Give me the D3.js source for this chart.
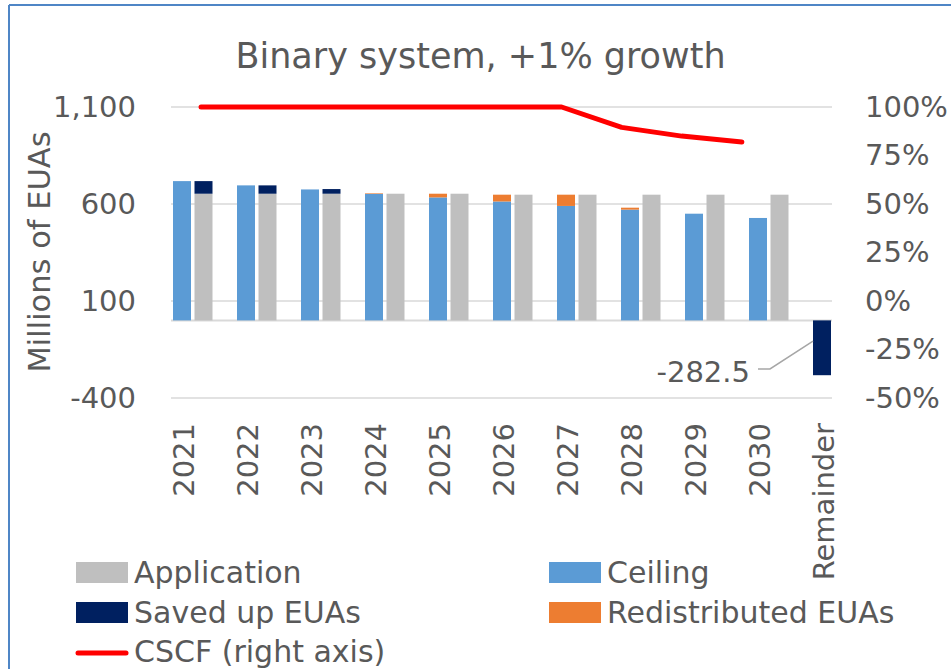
<!DOCTYPE html>
<head>
  <meta charset="utf-8">
  <style>
    body { margin: 0; background: #fff; }
    text { font-family: "DejaVu Sans", sans-serif; fill: #595959; }
    .grid line { stroke: #d9d9d9; stroke-width: 1.5; }
  </style>
  <script src="https://cdnjs.cloudflare.com/ajax/libs/d3/7.8.5/d3.min.js"></script>
</head>
<body>
<script>

  // Data (millions of EUAs)
  var categories = ["2021", "2022", "2023", "2024", "2025", "2026", "2027", "2028", "2029", "2030", "Remainder"];
  var years = ["2021", "2022", "2023", "2024", "2025", "2026", "2027", "2028", "2029", "2030"];
  var application = [653, 653, 653, 653, 653, 648, 648, 648, 648, 648];
  var ceiling = [718, 696, 675, 652, 634, 613, 590, 571, 550, 528];
  var savedUp = [65, 43, 24, 0, 0, 0, 0, 0, 0, 0];
  var redistributed = [0, 0, 0, 3, 19, 35, 58, 10, 0, 0];
  var remainder = -282.5;
  var cscf = [1, 1, 1, 1, 1, 1, 1, 0.895, 0.85, 0.82];

  var leftTicks = [-400, 100, 600, 1100];
  var rightTicks = [-0.5, -0.25, 0, 0.25, 0.5, 0.75, 1];
  var legendNames = ["Application", "Ceiling", "Saved up EUAs", "Redistributed EUAs", "CSCF (right axis)"];

  var w = 951, h = 669;
  var cGray = "#bfbfbf", cBlue = "#5b9bd5", cNavy = "#002060", cOrange = "#ed7d31", cRed = "#ff0000";

  // d3 uses a unicode minus, the chart uses a plain hyphen
  var fmt = d3.formatLocale({ decimal: ".", thousands: ",", grouping: [3], currency: ["", ""], minus: "-" });

  var svg = d3.select("body").append("svg")
    .attr("width", w)
    .attr("height", h);

  svg.append("rect").attr("width", w).attr("height", h).attr("fill", "#fff");

  // outer frame (only top and left edges visible)
  svg.append("line").attr("x1", 9).attr("x2", w).attr("y1", 5).attr("y2", 5)
    .attr("stroke", "#4f86c6").attr("stroke-width", 2);
  svg.append("line").attr("x1", 9).attr("x2", 9).attr("y1", 5).attr("y2", h)
    .attr("stroke", "#4f86c6").attr("stroke-width", 2);

  // scales
  var yLeft = d3.scaleLinear().domain([-400, 1100]).range([398, 107]);
  var yRight = d3.scaleLinear().domain([-0.5, 1]).range([398, 107]);
  var xBars = d3.scaleBand().domain(categories).range([151, 855]);     // bars + labels
  var xLine = d3.scaleBand().domain(categories).range([171, 832]);     // CSCF line
  var barW = 18;

  // title
  svg.append("text")
    .attr("x", 480.5).attr("y", 68)
    .attr("text-anchor", "middle")
    .attr("font-size", "35px")
    .text("Binary system, +1% growth");

  // gridlines
  svg.append("g").attr("class", "grid")
    .selectAll("line")
    .data(leftTicks)
    .enter().append("line")
    .attr("x1", 171).attr("x2", 832)
    .attr("y1", function(d) { return yLeft(d); })
    .attr("y2", function(d) { return yLeft(d); });

  // category axis line at zero
  svg.append("line")
    .attr("x1", 171).attr("x2", 832)
    .attr("y1", yLeft(0)).attr("y2", yLeft(0))
    .attr("stroke", "#d9d9d9").attr("stroke-width", 2);

  // left axis
  var leftAxis = svg.append("g")
    .attr("transform", "translate(136,0)")
    .call(d3.axisLeft(yLeft).tickValues(leftTicks).tickSize(0).tickPadding(0).tickFormat(fmt.format(",")));
  leftAxis.select(".domain").remove();
  leftAxis.selectAll("text")
    .attr("font-size", "29px").attr("fill", "#595959").attr("font-family", "DejaVu Sans");

  // right axis
  var rightAxis = svg.append("g")
    .attr("transform", "translate(865,0)")
    .call(d3.axisRight(yRight).tickValues(rightTicks).tickSize(0).tickPadding(0).tickFormat(fmt.format(".0%")));
  rightAxis.select(".domain").remove();
  rightAxis.selectAll("text")
    .attr("font-size", "29px").attr("fill", "#595959").attr("font-family", "DejaVu Sans");

  // axis title
  svg.append("text")
    .attr("transform", "translate(50,252) rotate(-90)")
    .attr("text-anchor", "middle")
    .attr("font-size", "30.5px")
    .text("Millions of EUAs");

  // category labels
  svg.selectAll("text.cat")
    .data(categories)
    .enter().append("text")
    .attr("class", "cat")
    .attr("transform", function(d) {
      return "translate(" + (xBars(d) + xBars.bandwidth() / 2 + 11) + ",423) rotate(-90)";
    })
    .attr("text-anchor", "end")
    .attr("font-size", "29px")
    .text(function(d) { return d; });

  function ceilX(d) { return xBars(d) + xBars.bandwidth() / 2 - 10; }
  function appX(d) { return xBars(d) + xBars.bandwidth() / 2 + 11.5; }

  // Ceiling bars
  svg.selectAll("rect.ceiling")
    .data(years)
    .enter().append("rect")
    .attr("x", ceilX)
    .attr("y", function(d, i) { return yLeft(ceiling[i]); })
    .attr("width", barW)
    .attr("height", function(d, i) { return yLeft(0) - yLeft(ceiling[i]); })
    .attr("fill", cBlue);

  // Redistributed on top of ceiling
  svg.selectAll("rect.redist")
    .data(years)
    .enter().append("rect")
    .attr("x", ceilX)
    .attr("y", function(d, i) { return yLeft(ceiling[i] + redistributed[i]); })
    .attr("width", barW)
    .attr("height", function(d, i) { return yLeft(ceiling[i]) - yLeft(ceiling[i] + redistributed[i]); })
    .attr("fill", cOrange);

  // Application bars
  svg.selectAll("rect.app")
    .data(years)
    .enter().append("rect")
    .attr("x", appX)
    .attr("y", function(d, i) { return yLeft(application[i]); })
    .attr("width", barW)
    .attr("height", function(d, i) { return yLeft(0) - yLeft(application[i]); })
    .attr("fill", cGray);

  // Saved up on top of application
  svg.selectAll("rect.saved")
    .data(years)
    .enter().append("rect")
    .attr("x", appX)
    .attr("y", function(d, i) { return yLeft(application[i] + savedUp[i]); })
    .attr("width", barW)
    .attr("height", function(d, i) { return yLeft(application[i]) - yLeft(application[i] + savedUp[i]); })
    .attr("fill", cNavy);

  // Remainder bar (negative)
  svg.append("rect")
    .attr("x", ceilX("Remainder"))
    .attr("y", yLeft(0))
    .attr("width", barW)
    .attr("height", yLeft(remainder) - yLeft(0))
    .attr("fill", cNavy);

  // data label + leader line
  var remTop = yLeft(remainder / 2 + 35);
  svg.append("polyline")
    .attr("points", [[758, 369], [770, 369], [ceilX("Remainder"), remTop]].join(" "))
    .attr("fill", "none")
    .attr("stroke", "#a6a6a6")
    .attr("stroke-width", 1.5);
  svg.append("text")
    .attr("x", 750).attr("y", 382)
    .attr("text-anchor", "end")
    .attr("font-size", "29px")
    .text(fmt.format(".1f")(remainder));

  // CSCF line
  var line = d3.line()
    .x(function(d, i) { return xLine(years[i]) + xLine.bandwidth() / 2; })
    .y(function(d) { return yRight(d); });
  svg.append("path")
    .datum(cscf)
    .attr("d", line)
    .attr("fill", "none")
    .attr("stroke", cRed)
    .attr("stroke-width", 5)
    .attr("stroke-linecap", "round")
    .attr("stroke-linejoin", "round");

  // Legend
  var legendPos = [[76, 562], [549, 562], [76, 602], [549, 602], [76, 642]];
  var legendColors = [cGray, cBlue, cNavy, cOrange, cRed];
  var legend = svg.selectAll("g.legend")
    .data(legendNames)
    .enter().append("g")
    .attr("class", "legend")
    .attr("transform", function(d, i) { return "translate(" + legendPos[i][0] + "," + legendPos[i][1] + ")"; });

  legend.each(function(d, i) {
    var g = d3.select(this);
    if (i === 4) {
      g.append("line").attr("x1", 2).attr("x2", 50).attr("y1", 11).attr("y2", 11)
        .attr("stroke", legendColors[i]).attr("stroke-width", 5).attr("stroke-linecap", "round");
    } else {
      g.append("rect").attr("width", 52).attr("height", 21).attr("fill", legendColors[i]);
    }
    g.append("text")
      .attr("x", 58).attr("y", i === 4 ? 20 : 21)
      .attr("font-size", "30px")
      .text(d);
  });

</script>
</body>
